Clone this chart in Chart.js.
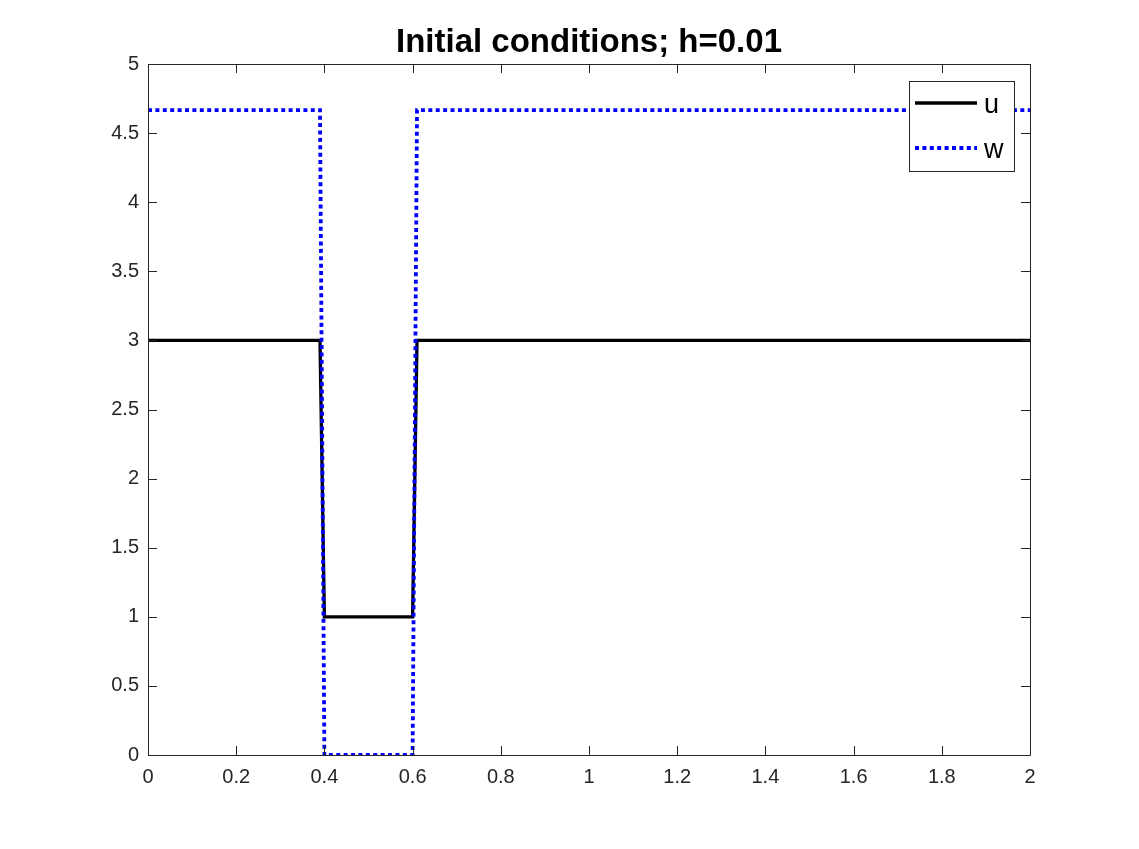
<!DOCTYPE html>
<html>
<head>
<meta charset="utf-8">
<script src="https://cdn.jsdelivr.net/npm/chart.js@4"></script>
<style>
  html, body { margin: 0; padding: 0; background: #fff; }
  canvas { display: block; }
</style>
</head>
<body>
<canvas id="chart" width="1139" height="849"></canvas>
<script>
// breakpoints of the initial profiles
const xValues = [0, 0.39, 0.40, 0.60, 0.61, 2];
const uValues = [3, 3, 1, 1, 3, 3];
const wValues = [4.6667, 4.6667, 0, 0, 4.6667, 4.6667];

const xTicks = [0, 0.2, 0.4, 0.6, 0.8, 1, 1.2, 1.4, 1.6, 1.8, 2];
const xTickLabels = ['0', '0.2', '0.4', '0.6', '0.8', '1', '1.2', '1.4', '1.6', '1.8', '2'];
const yTicks = [0, 0.5, 1, 1.5, 2, 2.5, 3, 3.5, 4, 4.5, 5];
const yTickLabels = ['0', '0.5', '1', '1.5', '2', '2.5', '3', '3.5', '4', '4.5', '5'];

const titleText = 'Initial conditions; h=0.01';
const axisColor = '#262626';
const fontFamily = '"Liberation Sans", Arial, Helvetica, sans-serif';

function toPoints(ys) {
    return xValues.map((x, i) => ({ x: x, y: ys[i] }));
}

// box, inward ticks, title and in-plot legend like the MATLAB figure
const matlabAxes = {
    id: 'matlabAxes',
    afterDraw(chart) {
        const ctx = chart.ctx;
        const area = chart.chartArea;
        const xs = chart.scales.x;
        const ys = chart.scales.y;
        const tickLen = 9;

        ctx.save();
        ctx.strokeStyle = axisColor;
        ctx.lineWidth = 1;
        ctx.beginPath();
        ctx.rect(Math.round(area.left) + 0.5, Math.round(area.top) + 0.5,
                 Math.round(area.right - area.left), Math.round(area.bottom - area.top));
        xTicks.forEach(v => {
            const px = Math.round(xs.getPixelForValue(v)) + 0.5;
            ctx.moveTo(px, area.bottom);
            ctx.lineTo(px, area.bottom - tickLen);
            ctx.moveTo(px, area.top);
            ctx.lineTo(px, area.top + tickLen);
        });
        yTicks.forEach(v => {
            const py = Math.round(ys.getPixelForValue(v)) + 0.5;
            ctx.moveTo(area.left, py);
            ctx.lineTo(area.left + tickLen, py);
            ctx.moveTo(area.right, py);
            ctx.lineTo(area.right - tickLen, py);
        });
        ctx.stroke();

        // title
        ctx.fillStyle = '#000';
        ctx.font = 'bold 33px ' + fontFamily;
        ctx.textAlign = 'center';
        ctx.textBaseline = 'alphabetic';
        ctx.fillText(titleText, (area.left + area.right) / 2, 52);

        // legend
        const lx = 909, ly = 81, lw = 105, lh = 90;
        ctx.fillStyle = '#fff';
        ctx.fillRect(lx, ly, lw, lh);
        ctx.strokeStyle = axisColor;
        ctx.lineWidth = 1;
        ctx.strokeRect(lx + 0.5, ly + 0.5, lw, lh);

        const rows = [22, 67];
        chart.data.datasets.forEach((ds, i) => {
            const y = ly + rows[i];
            ctx.strokeStyle = ds.borderColor;
            ctx.lineWidth = ds.borderWidth;
            ctx.setLineDash(ds.borderDash || []);
            ctx.beginPath();
            ctx.moveTo(915, y);
            ctx.lineTo(977, y);
            ctx.stroke();
            ctx.setLineDash([]);
            ctx.fillStyle = '#000';
            ctx.font = '27px ' + fontFamily;
            ctx.textAlign = 'left';
            ctx.textBaseline = 'middle';
            ctx.fillText(ds.label, 984, y + 3);
        });
        ctx.restore();
    }
};

const ctx = document.getElementById('chart').getContext('2d');
const chart = new Chart(ctx, {
    type: 'line',
    data: {
        datasets: [{
            label: 'u',
            data: toPoints(uValues),
            borderColor: '#000000',
            borderWidth: 3.3,
            order: 1
        }, {
            label: 'w',
            data: toPoints(wValues),
            borderColor: '#0000ff',
            borderWidth: 3.8,
            borderDash: [4, 3.4],
            order: 0
        }]
    },
    options: {
        responsive: false,
        animation: false,
        devicePixelRatio: 1,
        elements: {
            point: { radius: 0 },
            line: { tension: 0, fill: false }
        },
        layout: {
            padding: { top: 64, right: 109, left: 0, bottom: 0 }
        },
        scales: {
            x: {
                type: 'linear',
                min: 0,
                max: 2,
                grid: { display: false, drawTicks: false },
                border: { display: false },
                afterBuildTicks: scale => { scale.ticks = xTicks.map(v => ({ value: v })); },
                afterFit: scale => { scale.height = 94; },
                ticks: {
                    padding: 10,
                    color: axisColor,
                    maxRotation: 0,
                    font: { family: fontFamily, size: 20 },
                    callback: (v, i) => xTickLabels[i]
                }
            },
            y: {
                type: 'linear',
                min: 0,
                max: 5,
                grid: { display: false, drawTicks: false },
                border: { display: false },
                afterBuildTicks: scale => { scale.ticks = yTicks.map(v => ({ value: v })); },
                afterFit: scale => { scale.width = 148; },
                ticks: {
                    padding: 9,
                    color: axisColor,
                    font: { family: fontFamily, size: 20 },
                    callback: (v, i) => yTickLabels[i]
                }
            }
        },
        plugins: {
            legend: { display: false },
            title: { display: false },
            tooltip: { enabled: false }
        }
    },
    plugins: [matlabAxes]
});
</script>
</body>
</html>
